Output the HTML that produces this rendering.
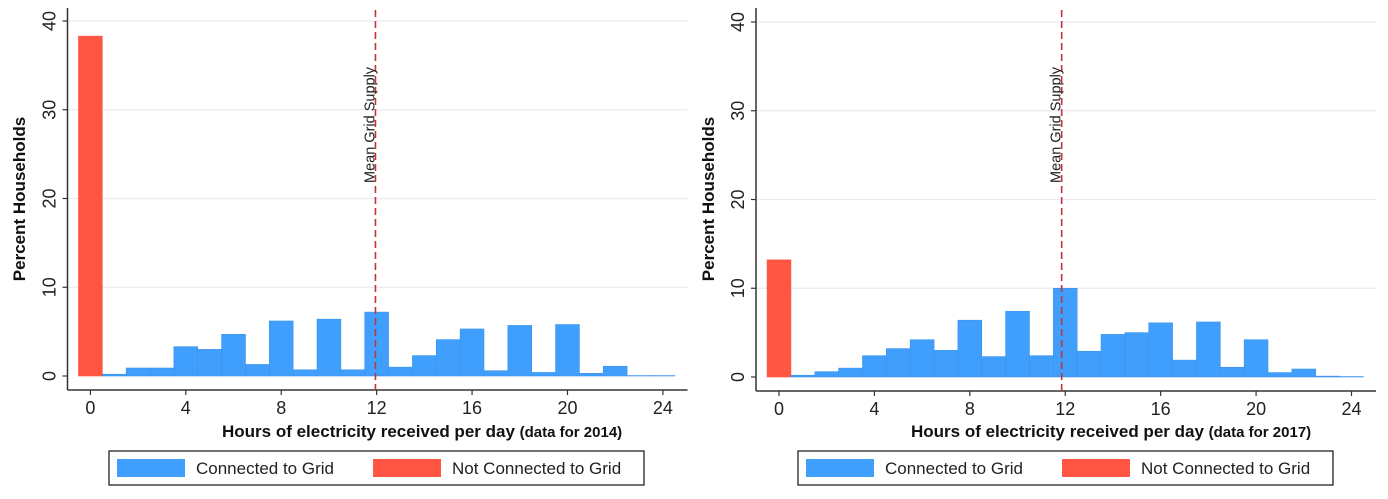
<!DOCTYPE html>
<html><head><meta charset="utf-8"><style>
body{margin:0;background:#fff;}
svg{display:block;font-family:"Liberation Sans",Arial,sans-serif;}
</style></head><body>
<svg id="c" width="1388" height="499"></svg>
<script>
const hours = [0,1,2,3,4,5,6,7,8,9,10,11,12,13,14,15,16,17,18,19,20,21,22,23,24];
const pct2014 = [38.3,0.2,0.9,0.9,3.3,3.0,4.7,1.3,6.2,0.7,6.4,0.7,7.2,1.0,2.3,4.1,5.3,0.6,5.7,0.4,5.8,0.3,1.1,0.05,0.05];
const pct2017 = [13.2,0.2,0.6,1.0,2.4,3.2,4.2,3.0,6.4,2.3,7.4,2.4,10.0,2.9,4.8,5.0,6.1,1.9,6.2,1.1,4.2,0.5,0.9,0.1,0.05];
const xTicks = [0,4,8,12,16,20,24];
const yTicks = [0,10,20,30,40];
const meanSupply2014 = 11.95;
const meanSupply2017 = 11.85;
const years = ["2014","2017"];

const NS="http://www.w3.org/2000/svg";
const svg=document.getElementById('c');
function mk(t,a,p){const e=document.createElementNS(NS,t);for(const k in a)e.setAttribute(k,a[k]);(p||svg).appendChild(e);return e;}

function panel(ox, axX, x0, yZero, yTop, vals, mean, year){
  const g=mk('g',{});
  
  
  const pxH=572.5/24;
  const sx=v=>x0+v*pxH;
  const sy=v=>yZero-(yZero-yTop)*v/40;
  yTicks.forEach(t=>{ if(t>0){const l=mk('line',{x1:axX+1,x2:axX+620,y1:sy(t),y2:sy(t),stroke:'#eaeaf0','stroke-width':1.2},g);
    }});
  vals.forEach((v,i)=>{
    const r=mk('rect',{x:sx(hours[i]-0.5),y:sy(v),width:pxH,height:sy(0)-sy(v),fill:i===0?'#ff5543':'#409ffc',stroke:i===0?'#ff5543':'#3a93ec','stroke-width':0.6},g);
    
    
  });
  const ya=mk('line',{x1:axX,x2:axX,y1:8,y2:sy(0)+14,stroke:'#333','stroke-width':1.5},g);
  
  const xa=mk('line',{x1:axX,x2:axX+620,y1:sy(0)+14,y2:sy(0)+14,stroke:'#333','stroke-width':1.5},g);
  
  yTicks.forEach(t=>{
    mk('line',{x1:axX-5,x2:axX,y1:sy(t),y2:sy(t),stroke:'#333','stroke-width':1.2},g);
    const tx=mk('text',{x:axX-12,y:sy(t),'font-size':18,fill:'#222','text-anchor':'middle',transform:`rotate(-90 ${axX-12} ${sy(t)})`},g);
    tx.textContent=t;
  });
  xTicks.forEach(t=>{
    mk('line',{x1:sx(t),x2:sx(t),y1:sy(0)+14,y2:sy(0)+19,stroke:'#333','stroke-width':1.2},g);
    const tx=mk('text',{x:sx(t),y:sy(0)+38,'font-size':18,fill:'#222','text-anchor':'middle'},g);
    tx.textContent=t;
  });
  const ml=mk('line',{x1:sx(mean),x2:sx(mean),y1:10,y2:sy(0)+14,stroke:'#c0343c','stroke-width':1.6,'stroke-dasharray':'7,4'},g);
  
  const mt=mk('text',{x:sx(mean)-1,y:183,'font-size':14.5,fill:'#222',transform:`rotate(-90 ${sx(mean)-1} 183)`},g);
  mt.textContent='Mean Grid Supply';
  const yt=mk('text',{x:ox+25,y:199,'font-size':17,'font-weight':'bold',fill:'#111','text-anchor':'middle',transform:`rotate(-90 ${ox+25} 199)`},g);
  yt.textContent='Percent Households';
  const xt=mk('text',{x:ox+222,y:437,'font-size':17,'font-weight':'bold',fill:'#111'},g);
  xt.textContent='Hours of electricity received per day ';
  const sp=mk('tspan',{'font-size':15},xt);sp.textContent='(data for '+year+')';
  
  const lg=mk('g',{},g);
  mk('rect',{x:ox+109,y:451,width:535,height:34,fill:'#fff',stroke:'#222','stroke-width':1.3},lg);
  const s1=mk('rect',{x:ox+117,y:459,width:68,height:18,fill:'#409ffc'},lg);
  
  const t1=mk('text',{x:ox+196,y:474,'font-size':17,fill:'#222'},lg);t1.textContent='Connected to Grid';
  
  const s2=mk('rect',{x:ox+373,y:459,width:68,height:18,fill:'#ff5543'},lg);
  
  const t2=mk('text',{x:ox+452,y:474,'font-size':17,fill:'#222'},lg);t2.textContent='Not Connected to Grid';
  
}
panel(0,67.5,90.4,376,21,pct2014,meanSupply2014,years[0]);
panel(689,756,779,377,22,pct2017,meanSupply2017,years[1]);
</script>
</body></html>
